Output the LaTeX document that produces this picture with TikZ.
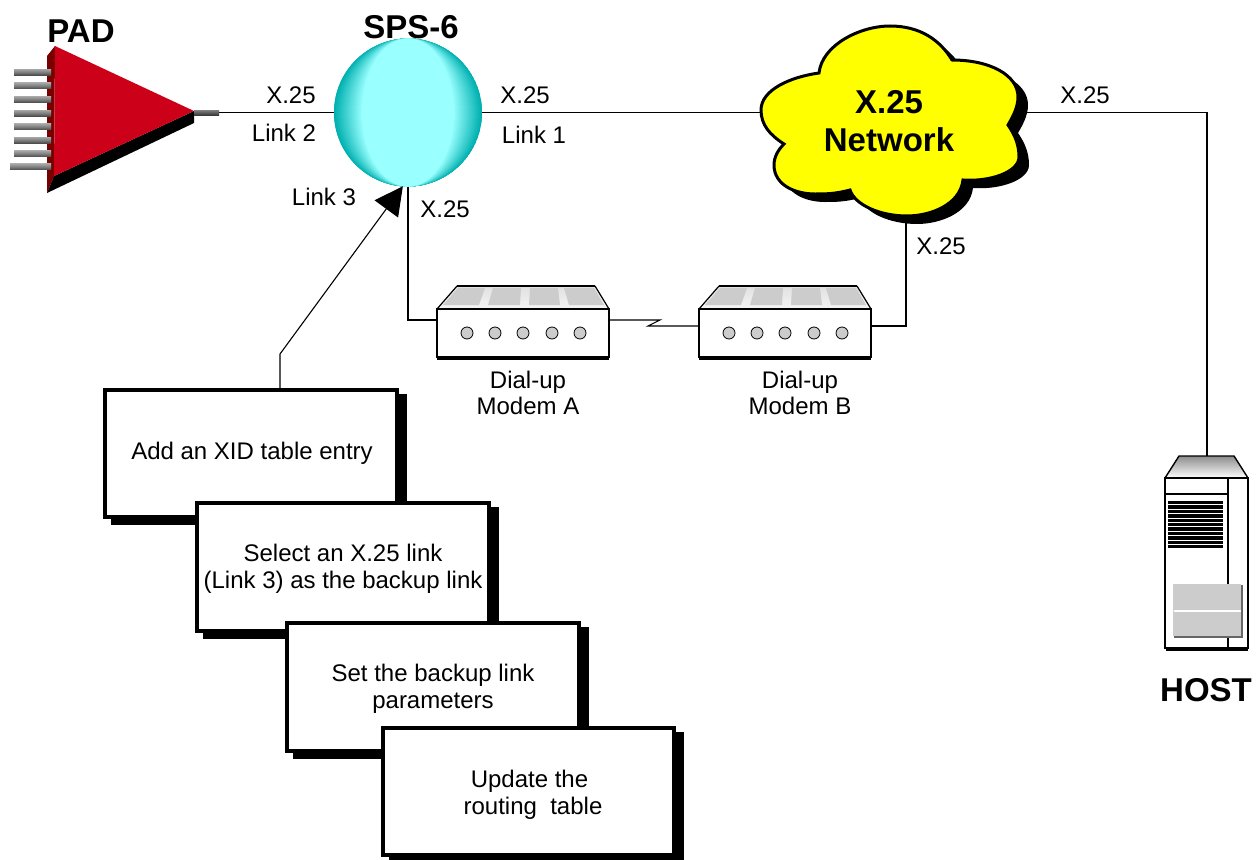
\documentclass[tikz,border=0pt]{standalone}
\usepackage{fontspec}
\setmainfont{Liberation Sans}
\usetikzlibrary{arrows.meta,shadows,calc}
\definecolor{padred}{HTML}{CC0019}
\definecolor{paddark}{HTML}{7A0000}
\definecolor{sphlight}{HTML}{99FFFF}
\definecolor{sphdark}{HTML}{00B0B0}
\definecolor{cloudy}{HTML}{FFFF00}
\definecolor{panel}{HTML}{CCCCCC}
\newcommand{\labelfont}{\fontsize{24}{27}\selectfont}
\newcommand{\titlefont}{\fontsize{33}{38}\selectfont\bfseries}
\newcommand{\cloudpath}{(819,73) .. controls (822,45) and (860,26) .. (890,26) .. controls (920,26) and (940,40) .. (952,60) .. controls (990,60) and (1018,75) .. (1018,97) .. controls (1018,108) and (1012,118) .. (1008,125) .. controls (1015,135) and (1019,145) .. (1019,157) .. controls (1019,172) and (990,182) .. (963,180) .. controls (960,205) and (930,216) .. (907,216) .. controls (880,216) and (855,205) .. (850,190) .. controls (835,194) and (825,194) .. (815,194) .. controls (795,194) and (774,185) .. (774,165) .. controls (774,157) and (778,150) .. (784,144) .. controls (770,135) and (761,125) .. (761,110) .. controls (761,90) and (790,77) .. (819,73) -- cycle}
\newcommand{\modemshape}[1]{%
  \fill[top color=black!12,bottom color=black!4] (437,309) -- (457,286) -- (595,286) -- (609,309) -- cycle;
  \fill[panel] (443,305) -- (458,288) -- (485,288) -- (479,305) -- cycle;
  \fill[panel] (488,305) -- (493,288) -- (521,288) -- (520,305) -- cycle;
  \fill[panel] (529,305) -- (530,288) -- (558,288) -- (560,305) -- cycle;
  \fill[panel] (569,305) -- (564,288) -- (594,288) -- (604,305) -- cycle;
  \draw[line width=1.2pt] (437,309) -- (457,286);
  \draw[line width=1.2pt] (595,286) -- (609,309);
  \draw[line width=1.6pt] (457,286) -- (595,286);
  \node[modembody] (#1) at (523,333) {};
  \fill[black] (437,356) rectangle (609,360);
  \foreach \dx in {467,495,523,552,580} \draw[line width=.8pt,fill=panel] (\dx,333) circle (6);
}
\tikzset{
  link/.style={line width=1.1pt,black},
  lbl/.style={font=\labelfont,align=center,inner sep=0pt},
  ttl/.style={font=\titlefont,align=center,inner sep=0pt},
  modembody/.style={draw,fill=white,line width=1.6pt,minimum width=172pt,minimum height=48pt,inner sep=0pt,outer sep=0pt},
  stepbox/.style={draw,fill=white,line width=4pt,inner sep=0pt,outer sep=0pt,align=center,font=\labelfont,
    general shadow={shadow xshift=8pt,shadow yshift=-5.5pt,fill=black,draw=black,line width=4pt}},
  pin/.style={top color=black!35,bottom color=black!70,middle color=black!50},
}
\begin{document}
\begin{tikzpicture}[x=1pt,y=-1pt]
\useasboundingbox (0,0) rectangle (1260,859);
% named connector ends
\coordinate (padtip) at (194,112.5);
\coordinate (cloudL) at (765,112.5);
\coordinate (cloudR) at (1025,112.5);
\coordinate (cloudB) at (906,215);
\coordinate (corner) at (1207,112.5);
\coordinate (hosttop) at (1207,456);
\coordinate (maL) at (437,320);
\coordinate (maR) at (609,320);
\coordinate (mbL) at (700,326);
\coordinate (mbR) at (871,326);
\coordinate (bend) at (280,354);
% SPS-6 sphere
\node[circle,minimum size=148pt,inner sep=0pt,outer sep=0pt,fill=sphdark] (sps) at (408,112.5) {};
\begin{scope}
  \clip (408,112.5) circle (74);
  \foreach \r in {74,73,...,46} {
    \pgfmathtruncatemacro{\p}{100*(74-\r)/28}
    \fill[sphlight!\p!sphdark] (408,112.5) ellipse ({\r} and 74);
  }
\end{scope}
% connectors
\draw[link] (padtip) -- (sps.west);
\draw[link] (sps.east) -- (cloudL);
\draw[link] (cloudR) -- (corner) -- (hosttop);
\draw[link] (sps.south) |- (maL);
\draw[link] (maR) -- (660,320) -- (648,326) -- (mbL);
\draw[link] (mbR) -| (cloudB);
% PAD
\fill[paddark] (47,56) -- (55,46) -- (54,176) -- (47,193) -- cycle;
\fill[black] (54,176) -- (194,111) -- (194,123) -- (47,193) -- cycle;
\fill[padred] (55,46) -- (194,111) -- (54,176) -- cycle;
\foreach \py in {72,85.7,99.3,113,126.7,140,153.7} \fill[pin] (14,\py-3) rectangle (51,\py+3);
\fill[pin] (10,163.7) rectangle (51,169.7);
\fill[top color=black!50,bottom color=black!80] (194,110) rectangle (219,115.5);
\node[ttl] (padlabel) at (81,31) {PAD};
\node[ttl] (spslabel) at (411,27) {SPS-6};
% cloud
\fill[black,shift={(10,8)}] \cloudpath;
\draw[fill=cloudy,line width=3pt] \cloudpath;
\node[ttl] (cloud) at (889,121) {X.25\\Network};
% modems
\begin{scope}\modemshape{ma}\end{scope}
\begin{scope}[xshift=262pt]\modemshape{mb}\end{scope}
\node[lbl,font=\fontsize{24}{26}\selectfont] (dialA) at (528,393) {Dial-up\\Modem A};
\node[lbl,font=\fontsize{24}{26}\selectfont] (dialB) at (800,393) {Dial-up\\Modem B};
% host
\fill[top color=black!45,bottom color=white] (1165,478) -- (1179,456) -- (1234,456) -- (1248,478) -- cycle;
\draw[line width=1.4pt] (1165,478) -- (1179,456) -- (1234,456) -- (1248,478);
\node[draw,fill=white,line width=1.4pt,minimum width=83pt,minimum height=170pt,inner sep=0pt,outer sep=0pt] (host) at (1206.5,563) {};
\draw[line width=2pt] (1228,478) -- (1228,648);
\draw[line width=2pt] (1165,494) -- (1228,494);
\fill[black] (1166,647) rectangle (1248,651);
\foreach \i in {0,...,10} \fill[black] (1168,{501+\i*4.4}) rectangle (1223,{504.4+\i*4.4});
\fill[black!60] (1174,585) rectangle (1243,638);
\fill[panel] (1173,584) rectangle (1241,636);
\fill[white] (1174,610) rectangle (1241,612);
\node[ttl] (hostlabel) at (1206,690) {HOST};
% step boxes
\node[stepbox,minimum width=292pt,minimum height=127pt] (b1) at (251,453.5) {\hspace*{2pt}Add an XID table entry};
\node[stepbox,minimum width=292pt,minimum height=128pt] (b2) at (343,567) {\rule{0pt}{20pt}Select an X.25 link\\(Link 3) as the backup link};
\node[stepbox,minimum width=292pt,minimum height=128pt] (b3) at (433,687) {\rule{0pt}{20pt}Set the backup link\\parameters};
\node[stepbox,minimum width=291pt,minimum height=127pt] (b4) at (528.5,791.5) {\rule{0pt}{24pt}\hspace*{2pt}Update the\\\hspace*{9pt}routing~ table};
% arrow to SPS-6
\draw[link,-{Triangle[length=28pt,width=29pt]}] (bend |- b1.north) -- (bend) -- (sps.266);
% labels
\node[lbl] (l1) at (291,95) {X.25};
\node[lbl] (l2) at (284,133) {Link 2};
\node[lbl] (l3) at (525,95) {X.25};
\node[lbl] (l4) at (534,135) {Link 1};
\node[lbl] (l5) at (1085,95) {X.25};
\node[lbl] (l6) at (324,197) {Link 3};
\node[lbl] (l7) at (445,209) {X.25};
\node[lbl] (l8) at (941,246) {X.25};
\end{tikzpicture}
\end{document}
